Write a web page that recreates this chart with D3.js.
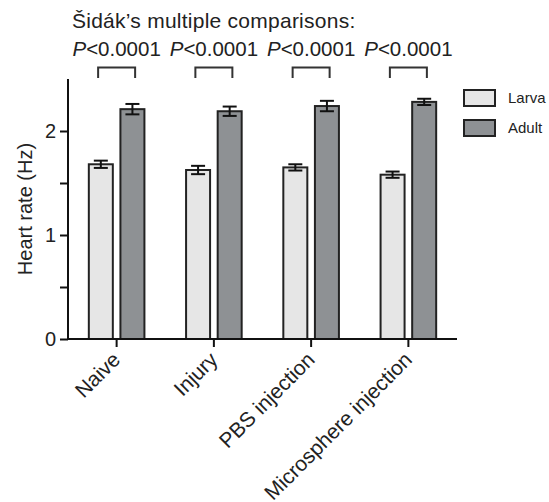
<!DOCTYPE html>
<html>
<head>
    <meta charset="utf-8">
    <title>Heart rate</title>
    <script src="https://cdnjs.cloudflare.com/ajax/libs/d3/7.8.5/d3.min.js"></script>
    <style>
        body { margin: 0; background: #fff; }
        svg text { font-family: 'Liberation Sans', Arial, sans-serif; fill: #222; }
        .axis path, .axis line { stroke: #111; stroke-width: 2; }
        .axis text { font-size: 20px; }
        .xaxis text { font-size: 21px; }
    </style>
</head>
<body>
    <div id="chart"></div>
    <script>
        // values
        const categories = ['Naive', 'Injury', 'PBS injection', 'Microsphere injection'];
        const larva = [1.68, 1.625, 1.65, 1.58];
        const larvaErr = [0.035, 0.04, 0.03, 0.03];
        const adult = [2.21, 2.19, 2.24, 2.28];
        const adultErr = [0.05, 0.045, 0.05, 0.03];
        const pLabels = ['0.0001', '0.0001', '0.0001', '0.0001'];
        const yTicks = [0, 1, 2];
        const yMinorTicks = [0.5, 1.5];
        const seriesNames = ['Larva', 'Adult'];
        const colors = ['#e6e6e6', '#8e9194'];

        const margin = { top: 79, right: 92, bottom: 163, left: 68 };
        const W = 549, H = 502;
        const width = W - margin.left - margin.right;
        const height = H - margin.top - margin.bottom;

        const svg = d3.select('#chart').append('svg')
            .attr('width', W)
            .attr('height', H);

        const g = svg.append('g')
            .attr('transform', `translate(${margin.left},${margin.top})`);

        const x = d3.scaleBand().domain(categories).range([0, width]);
        const y = d3.scaleLinear().domain([0, 2.5]).range([height, 0]);

        const barW = 24;
        const offset = 15.8;

        // bars
        const series = [
            { name: 'Larva', vals: larva, errs: larvaErr, dx: -offset, color: colors[0] },
            { name: 'Adult', vals: adult, errs: adultErr, dx: offset, color: colors[1] }
        ];

        series.forEach(s => {
            const grp = g.append('g');
            categories.forEach((c, i) => {
                const cx = x(c) + x.bandwidth() / 2 + s.dx;
                grp.append('rect')
                    .attr('x', cx - barW / 2)
                    .attr('y', y(s.vals[i]))
                    .attr('width', barW)
                    .attr('height', y(0) - y(s.vals[i]))
                    .attr('fill', s.color)
                    .attr('stroke', '#222')
                    .attr('stroke-width', 2);
                // error bar
                const hi = y(s.vals[i] + s.errs[i]);
                const lo = y(s.vals[i] - s.errs[i]);
                grp.append('line')
                    .attr('x1', cx).attr('x2', cx)
                    .attr('y1', hi).attr('y2', lo)
                    .attr('stroke', '#111').attr('stroke-width', 2);
                [hi, lo].forEach(yy => {
                    grp.append('line')
                        .attr('x1', cx - 7).attr('x2', cx + 7)
                        .attr('y1', yy).attr('y2', yy)
                        .attr('stroke', '#111').attr('stroke-width', 2);
                });
            });
        });

        // y axis
        const yAxis = g.append('g')
            .attr('class', 'axis')
            .call(d3.axisLeft(y).tickValues(yTicks).tickSize(8).tickPadding(4).tickFormat(d3.format('d')));
        yAxis.select('.domain').attr('d', `M0,${height}V0`);

        g.append('g')
            .attr('class', 'axis')
            .call(d3.axisLeft(y).tickValues(yMinorTicks).tickSize(8).tickFormat(''))
            .select('.domain').remove();

        // x axis
        const xAxis = g.append('g')
            .attr('class', 'axis xaxis')
            .attr('transform', `translate(0,${height})`)
            .call(d3.axisBottom(x).tickSize(8).tickSizeOuter(0));
        xAxis.select('.domain').attr('d', `M0,0H${width}`);
        xAxis.selectAll('text')
            .attr('text-anchor', 'end')
            .attr('dy', null)
            .attr('y', 0)
            .attr('transform', 'translate(5,22) rotate(-45)');

        // y label
        svg.append('text')
            .attr('transform', `translate(32,${margin.top + height / 2}) rotate(-90)`)
            .attr('text-anchor', 'middle')
            .style('font-size', '20px')
            .text('Heart rate (Hz)');

        // title + p values
        svg.append('text')
            .attr('x', 72)
            .attr('y', 28)
            .style('font-size', '21px')
            .style('letter-spacing', '0.25px')
            .text('Šidák’s multiple comparisons:');

        categories.forEach((c, i) => {
            const cx = margin.left + x(c) + x.bandwidth() / 2;
            const t = svg.append('text')
                .attr('x', cx)
                .attr('y', 56)
                .attr('text-anchor', 'middle')
                .style('font-size', '20.5px');
            t.append('tspan').style('font-style', 'italic').text('P');
            t.append('tspan').text('<' + pLabels[i]);

            svg.append('path')
                .attr('d', `M${cx - 18.5},78V67.5H${cx + 18.5}V78`)
                .attr('fill', 'none')
                .attr('stroke', '#333')
                .attr('stroke-width', 2);
        });

        // legend
        const legend = svg.append('g').attr('transform', 'translate(464,90)');
        seriesNames.forEach((n, i) => {
            const row = legend.append('g').attr('transform', `translate(0,${i * 30})`);
            row.append('rect')
                .attr('x', 0).attr('y', 0)
                .attr('width', 31).attr('height', 16)
                .attr('fill', colors[i])
                .attr('stroke', '#222')
                .attr('stroke-width', 2);
            row.append('text')
                .attr('x', 44)
                .attr('y', 8)
                .attr('dy', '0.35em')
                .style('font-size', '15px')
                .text(n);
        });
    </script>
</body>
</html>
